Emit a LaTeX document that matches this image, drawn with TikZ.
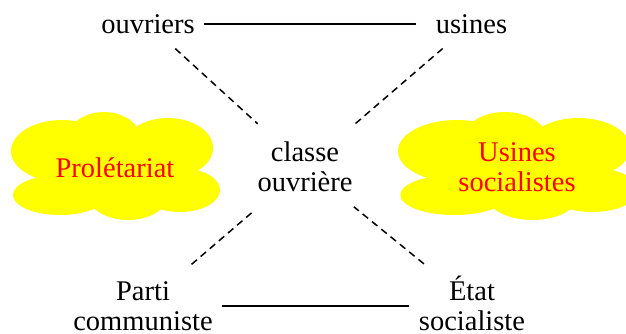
\documentclass[tikz,border=0pt]{standalone}
\usepackage{fontspec}
\setmainfont{Liberation Serif}
\newfontfamily\labelfont{Liberation Serif}
\definecolor{cloudyellow}{RGB}{255,255,0}
\definecolor{cloudred}{RGB}{255,0,0}
\newcommand\cloudblobs{%
  \fill[cloudyellow] (93,140) ellipse [x radius=37, y radius=28];
  \fill[cloudyellow] (157,148) ellipse [x radius=45, y radius=30];
  \fill[cloudyellow] (51,151) ellipse [x radius=51, y radius=31];
  \fill[cloudyellow] (49,195) ellipse [x radius=47, y radius=20];
  \fill[cloudyellow] (117,195) ellipse [x radius=40, y radius=25];
  \fill[cloudyellow] (169,190) ellipse [x radius=40, y radius=22];
  \fill[cloudyellow] (104,168) ellipse [x radius=82, y radius=37];
}
\begin{document}
\begin{tikzpicture}[x=1pt,y=-1pt,
  lbl/.style={font=\labelfont\fontsize{28.5}{30}\selectfont, inner sep=0pt, align=center},
  redlbl/.style={lbl, text=cloudred},
  solidline/.style={line width=2pt},
  dashline/.style={line width=1.5pt, dash pattern=on 7pt off 5pt}]
\useasboundingbox (0,0) rectangle (626,333);
\clip (0,0) rectangle (626,333);
% clouds
\begin{scope}[xshift=11pt]
  \cloudblobs
\end{scope}
\begin{scope}[xshift=398pt, xscale=1.15]
  \cloudblobs
\end{scope}
% labels
\node[lbl, anchor=base] (ouv) at (148,33) {ouvriers};
\node[lbl, anchor=base] (usi) at (471.5,33) {usines};
\node[lbl] (cls) at (305,167) {classe\\ouvrière};
\node[lbl] (pc) at (143,306) {Parti\\communiste};
\node[lbl] (etat) at (472,303) {État\\socialiste};
\node[redlbl, anchor=base] (prol) at (115,177) {Prolétariat};
\node[redlbl] (usoc) at (517,167) {Usines\\socialistes};
% connectors
\draw[solidline, shorten <=9pt, shorten >=20pt] (ouv.east) -- (ouv.east -| usi.west);
\draw[solidline, shorten <=9pt, shorten >=10pt] (pc.east) -- (pc.east -| etat.west);
\draw[dashline, shorten <=37pt, shorten >=64pt] (ouv.center) -- (cls.center);
\draw[dashline, shorten <=38pt, shorten >=62pt] (usi.center) -- (cls.center);
\draw[dashline, shorten <=64pt, shorten >=68pt] (pc.center) -- (cls.center);
\draw[dashline, shorten <=62pt, shorten >=63pt] (etat.center) -- (cls.center);
\end{tikzpicture}
\end{document}
